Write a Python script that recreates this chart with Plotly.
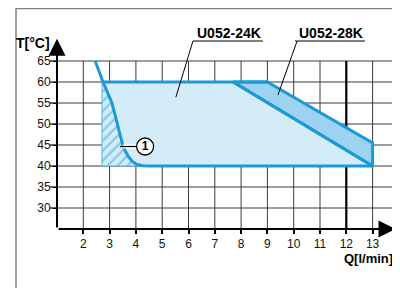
import plotly.graph_objects as go

# ---- data ----
x_ticks = [2, 3, 4, 5, 6, 7, 8, 9, 10, 11, 12, 13]
y_ticks = [30, 35, 40, 45, 50, 55, 60, 65]

# U052-24K operating envelope (Q [l/min], T [°C])
env24_q = [2.71, 7.7, 13.0, 2.71]
env24_t = [60, 60, 40, 40]
# extra area of U052-28K
env28_q = [7.7, 9.0, 13.0, 13.0]
env28_t = [60, 60, 45.5, 40]
# limit curve (1)
curve_q = [2.45, 2.75, 3.09, 3.3, 3.5, 3.6, 3.72, 3.86, 4.02, 4.25, 4.5]
curve_t = [65, 60, 55, 50, 45, 43.5, 42.2, 41.1, 40.4, 40.05, 40]
hatch_left_q = 2.71

labels = ["U052-24K", "U052-28K"]

BLUE = "#1b9ad6"
LIGHT = "#d3ecf8"
MID = "#9dd3f0"
GRID = "#3a3a3a"
FONT = "Liberation Sans, Arial, sans-serif"

# page has an 8px body margin: figure pixel = reference pixel - 8
W, H = 392, 280
ML, MT, MB = 49, 30, 59
PW, PH = W - ML, H - MT - MB


def px(fx):
    return (fx - 8 - ML) / PW


def py(fy):
    return (H - MB - (fy - 8)) / PH


fig = go.Figure()

fig.add_trace(go.Scatter(x=env24_q + [env24_q[0]], y=env24_t + [env24_t[0]], fill="toself",
                         fillcolor=LIGHT, mode="lines", line=dict(width=0), hoverinfo="skip"))
hq = [hatch_left_q] + [q for q, t in zip(curve_q, curve_t) if t <= 60] + [hatch_left_q]
ht = [60] + [t for t in curve_t if t <= 60] + [40]
fig.add_trace(go.Scatter(x=hq + [hq[0]], y=ht + [ht[0]], fill="toself", fillcolor=LIGHT,
                         fillpattern=dict(shape="/", fgcolor="#2fa2dc", bgcolor=LIGHT, size=7, solidity=0.3),
                         mode="lines", line=dict(width=1, color="#4fb2e3"), hoverinfo="skip"))
fig.add_trace(go.Scatter(x=env28_q + [env28_q[0]], y=env28_t + [env28_t[0]], fill="toself",
                         fillcolor=MID, mode="lines", line=dict(width=3, color=BLUE), hoverinfo="skip"))
fig.add_trace(go.Scatter(x=[env24_q[0], env28_q[1]], y=[60, 60], mode="lines",
                         line=dict(width=3, color=BLUE), hoverinfo="skip"))
fig.add_trace(go.Scatter(x=env24_q[1:3], y=env24_t[1:3], mode="lines",
                         line=dict(width=3, color=BLUE), hoverinfo="skip"))
fig.add_trace(go.Scatter(x=curve_q + [13.0], y=curve_t + [40], mode="lines",
                         line=dict(width=3, color=BLUE), hoverinfo="skip"))

# label (1)
fig.add_trace(go.Scatter(x=[3.5, 4.02], y=[44.64, 44.64], mode="lines",
                         line=dict(width=4, color="white"), hoverinfo="skip"))
fig.add_trace(go.Scatter(x=[3.4, 4.04], y=[44.64, 44.64], mode="lines",
                         line=dict(width=1.2, color="black"), hoverinfo="skip"))
fig.add_trace(go.Scatter(x=[4.35], y=[44.64], mode="markers+text", text=["<b>1</b>"],
                         textposition="middle center", textfont=dict(size=12, color="black", family=FONT),
                         marker=dict(size=17, color="white", line=dict(width=1.3, color="black")),
                         cliponaxis=False, hoverinfo="skip"))

shapes = []
for t in y_ticks:
    shapes.append(dict(type="line", xref="x", yref="y", x0=1, x1=13.85, y0=t, y1=t,
                       line=dict(color=GRID, width=1), layer="below"))
    # long y ticks
    shapes.append(dict(type="line", xref="paper", yref="y", x0=-7 / PW, x1=0, y0=t, y1=t,
                       line=dict(color="black", width=1.2)))
for q in x_ticks:
    shapes.append(dict(type="line", xref="x", yref="y", x0=q, x1=q, y0=25, y1=65,
                       line=dict(color="black" if q == 12 else GRID, width=2.2 if q == 12 else 1),
                       layer="below"))
shapes += [
    dict(type="line", xref="x", yref="y", x0=6.17, x1=8.83, y0=69.76, y1=69.76, line=dict(color="black", width=1)),
    dict(type="line", xref="x", yref="y", x0=6.17, x1=5.52, y0=69.76, y1=56.4, line=dict(color="black", width=1)),
    dict(type="line", xref="x", yref="y", x0=10.05, x1=12.71, y0=69.76, y1=69.76, line=dict(color="black", width=1)),
    dict(type="line", xref="x", yref="y", x0=10.13, x1=9.40, y0=69.76, y1=56.9, line=dict(color="black", width=1)),
]
shapes.append(dict(type="rect", xref="paper", yref="paper", x0=px(16), x1=px(420), y0=py(310), y1=py(8.6),
                   line=dict(color="#808080", width=1.5), fillcolor="rgba(0,0,0,0)"))

annotations = [
    dict(x=1, y=70.3, ax=1, ay=25, xref="x", yref="y", axref="x", ayref="y", text="", showarrow=True,
         arrowhead=2, arrowsize=1.7, arrowwidth=2, arrowcolor="black", standoff=0, startstandoff=0),
    dict(x=13.87, y=25, ax=1, ay=25, xref="x", yref="y", axref="x", ayref="y", text="", showarrow=True,
         arrowhead=2, arrowsize=1.7, arrowwidth=2, arrowcolor="black", standoff=0, startstandoff=0),
    dict(x=px(52), y=py(43.5), xref="paper", yref="paper", text="<b>T[°C]</b>", showarrow=False,
         xanchor="right", yanchor="middle", font=dict(size=14, family=FONT, color="black")),
    dict(x=px(395), y=py(258), xref="paper", yref="paper", text="<b>Q[l/min]</b>", showarrow=False,
         xanchor="right", yanchor="middle", font=dict(size=13, family=FONT, color="black")),
    dict(x=px(228.5), y=py(33), xref="paper", yref="paper", text="<b>" + labels[0] + "</b>",
         showarrow=False, xanchor="center", yanchor="middle", font=dict(size=14, family=FONT, color="black")),
    dict(x=px(330.5), y=py(33), xref="paper", yref="paper", text="<b>" + labels[1] + "</b>",
         showarrow=False, xanchor="center", yanchor="middle", font=dict(size=14, family=FONT, color="black")),
]

fig.update_layout(
    width=W, height=H,
    margin=dict(l=ML, r=0, t=MT, b=MB, pad=0),
    paper_bgcolor="white", plot_bgcolor="white",
    showlegend=False,
    shapes=shapes, annotations=annotations,
    font=dict(family=FONT, size=12, color="#111"),
    xaxis=dict(range=[1, 1 + PW / 26.3], showgrid=False, zeroline=False, showline=False,
               tickmode="array", tickvals=x_ticks, ticktext=[str(v) for v in x_ticks],
               ticks="outside", ticklen=4, tickwidth=1.5, tickcolor="black",
               tickfont=dict(size=12, family=FONT, color="#111"), fixedrange=True),
    yaxis=dict(range=[25, 25 + PH / 4.2], showgrid=False, zeroline=False, showline=False,
               tickmode="array", tickvals=y_ticks, ticktext=[str(v) for v in y_ticks],
               ticks="outside", ticklen=3, tickwidth=1.2, tickcolor="black",
               tickfont=dict(size=12, family=FONT, color="#111"), fixedrange=True),
)

fig.write_html("out.html")
